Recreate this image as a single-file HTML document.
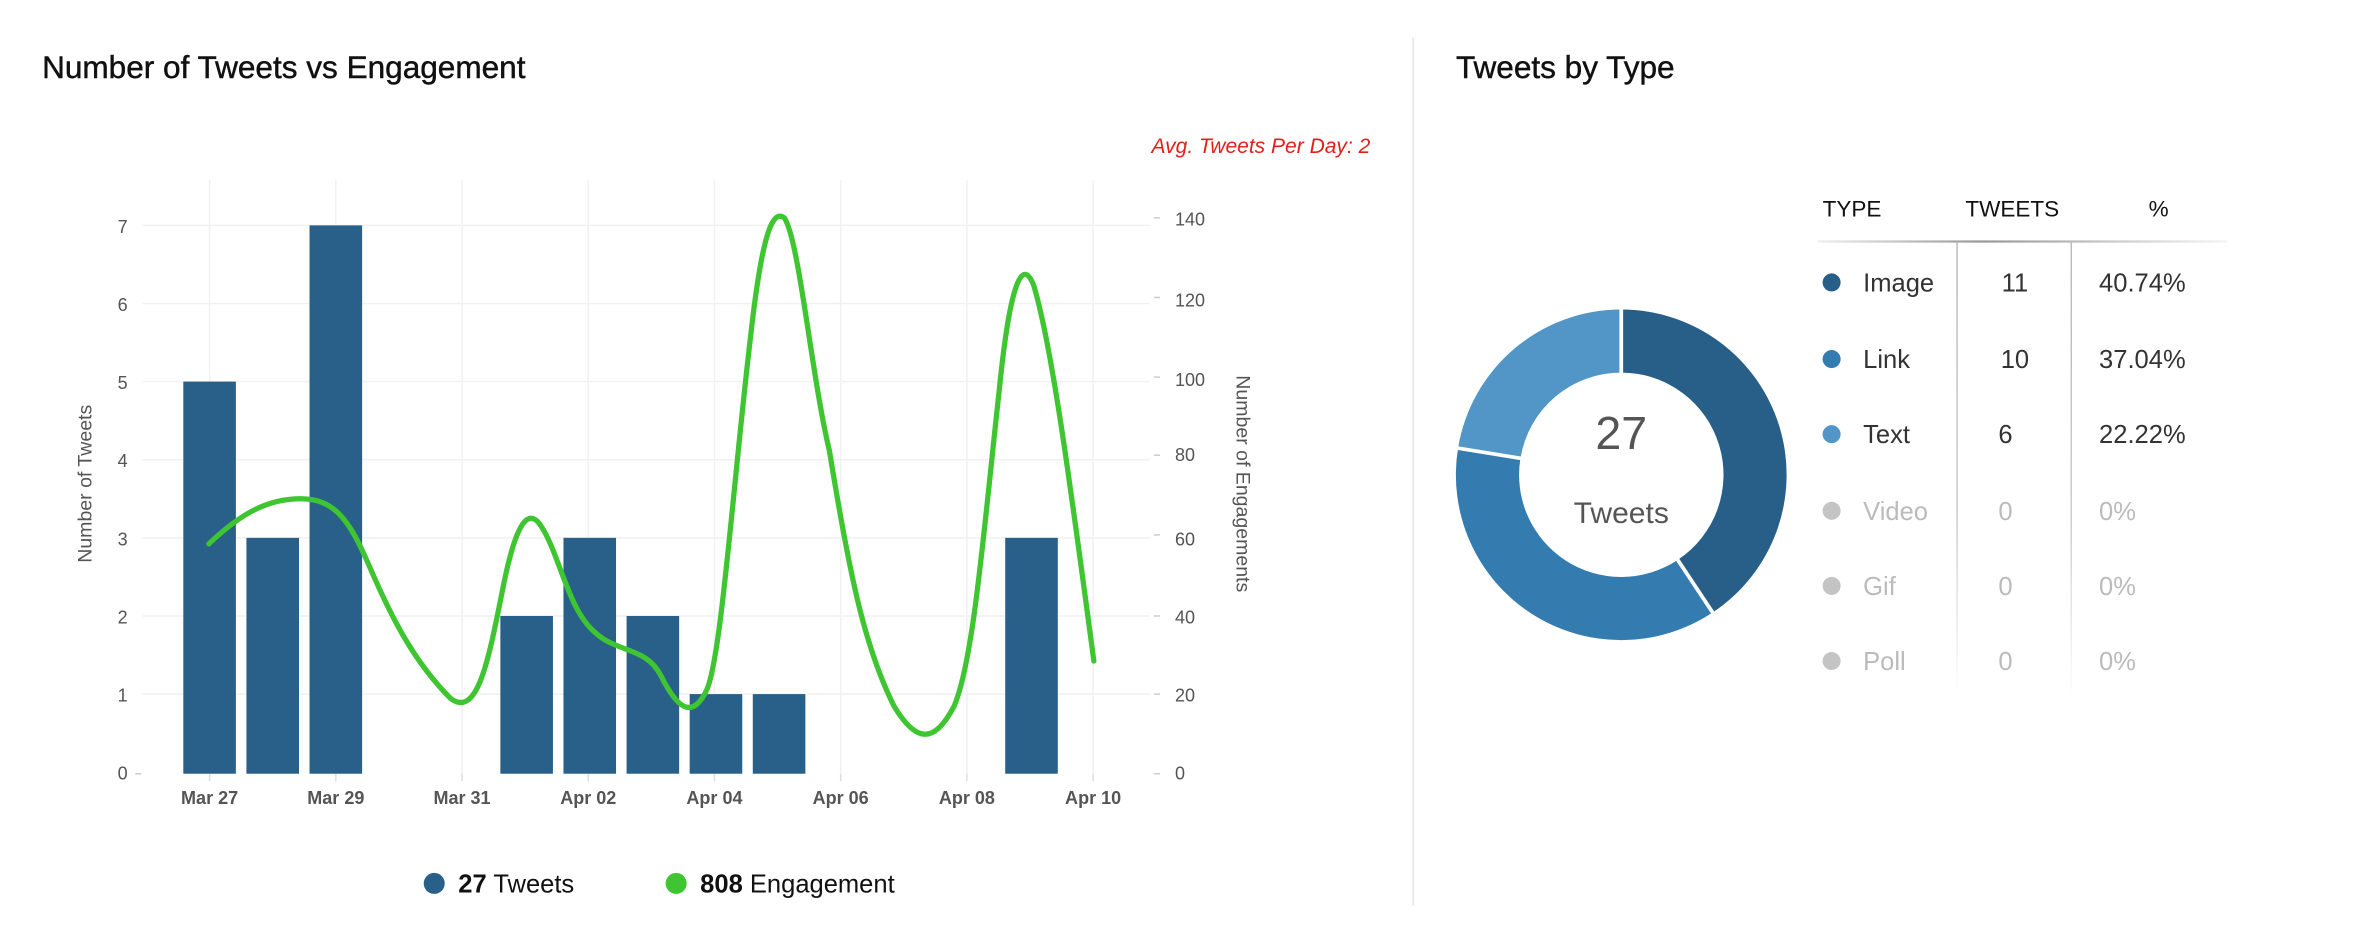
<!DOCTYPE html>
<html><head><meta charset="utf-8"><style>html,body{margin:0;padding:0;background:#fff}svg{display:block}text{font-family:"Liberation Sans",sans-serif}</style></head><body>
<svg width="2356" height="948" viewBox="0 0 1568 631" preserveAspectRatio="none" xmlns="http://www.w3.org/2000/svg">
<text x="28" y="52" font-size="21" fill="#111" stroke="#111" stroke-width="0.3">Number of Tweets vs Engagement</text>
<text x="912" y="102" font-size="14" fill="#e0201a" font-style="italic" text-anchor="end">Avg. Tweets Per Day: 2</text>
<g stroke="#f1f1f1" stroke-width="1">
<line x1="95" y1="150" x2="765" y2="150"/><line x1="95" y1="202" x2="765" y2="202"/><line x1="95" y1="254" x2="765" y2="254"/><line x1="95" y1="306" x2="765" y2="306"/><line x1="95" y1="358" x2="765" y2="358"/><line x1="95" y1="410" x2="765" y2="410"/><line x1="95" y1="462" x2="765" y2="462"/>
<line x1="139.5" y1="120" x2="139.5" y2="515"/><line x1="223.5" y1="120" x2="223.5" y2="515"/><line x1="307.5" y1="120" x2="307.5" y2="515"/><line x1="391.5" y1="120" x2="391.5" y2="515"/><line x1="475.5" y1="120" x2="475.5" y2="515"/><line x1="559.5" y1="120" x2="559.5" y2="515"/><line x1="643.5" y1="120" x2="643.5" y2="515"/><line x1="727.5" y1="120" x2="727.5" y2="515"/>
</g>
<g stroke="#ddd"><line x1="139.5" y1="515" x2="139.5" y2="520"/><line x1="223.5" y1="515" x2="223.5" y2="520"/><line x1="307.5" y1="515" x2="307.5" y2="520"/><line x1="391.5" y1="515" x2="391.5" y2="520"/><line x1="475.5" y1="515" x2="475.5" y2="520"/><line x1="559.5" y1="515" x2="559.5" y2="520"/><line x1="643.5" y1="515" x2="643.5" y2="520"/><line x1="727.5" y1="515" x2="727.5" y2="520"/></g>
<g fill="#28608a">
<rect x="122" y="254" width="35" height="261"/><rect x="164" y="358" width="35" height="157"/><rect x="206" y="150" width="35" height="365"/>
<rect x="333" y="410" width="35" height="105"/><rect x="375" y="358" width="35" height="157"/><rect x="417" y="410" width="35" height="105"/>
<rect x="459" y="462" width="35" height="53"/><rect x="501" y="462" width="35" height="53"/><rect x="669" y="358" width="35" height="157"/>
</g>
<path d="M139,362 C160,342 178,332 200,332 C222,332 232,345 245,375 C260,410 275,440 300,465 C318,478 325,440 335,390 C342,355 350,335 360,350 C372,368 378,405 395,420 C410,435 430,430 440,450 C450,470 460,480 470,460 C480,440 488,320 500,220 C508,150 515,140 522,145 C532,160 540,250 552,300 C565,380 575,430 595,470 C610,495 622,495 635,470 C648,440 655,350 665,260 C672,190 680,170 688,190 C700,230 712,320 728,440" fill="none" stroke="#3ec531" stroke-width="3.5" stroke-linecap="round"/>
<g font-size="12" fill="#555" text-anchor="end">
<text x="85" y="519">0</text><text x="85" y="467">1</text><text x="85" y="415">2</text><text x="85" y="363">3</text><text x="85" y="311">4</text><text x="85" y="259">5</text><text x="85" y="207">6</text><text x="85" y="155">7</text>
</g>
<g font-size="12" fill="#555">
<text x="782" y="519">0</text><text x="782" y="467">20</text><text x="782" y="415">40</text><text x="782" y="363">60</text><text x="782" y="307">80</text><text x="782" y="257">100</text><text x="782" y="204">120</text><text x="782" y="150">140</text>
</g>
<g stroke="#ccc"><line x1="768" y1="515" x2="772" y2="515"/><line x1="768" y1="462" x2="772" y2="462"/><line x1="768" y1="410" x2="772" y2="410"/><line x1="768" y1="356" x2="772" y2="356"/><line x1="768" y1="303" x2="772" y2="303"/><line x1="768" y1="251" x2="772" y2="251"/><line x1="768" y1="198" x2="772" y2="198"/><line x1="768" y1="145" x2="772" y2="145"/><line x1="90" y1="515" x2="94" y2="515"/></g>
<text transform="translate(61,322) rotate(-90)" font-size="13" fill="#555" text-anchor="middle">Number of Tweets</text>
<text transform="translate(823,322) rotate(90)" font-size="13" fill="#555" text-anchor="middle">Number of Engagements</text>
<g font-size="12" fill="#555" font-weight="bold" text-anchor="middle">
<text x="139.5" y="535">Mar 27</text><text x="223.5" y="535">Mar 29</text><text x="307.5" y="535">Mar 31</text><text x="391.5" y="535">Apr 02</text><text x="475.5" y="535">Apr 04</text><text x="559.5" y="535">Apr 06</text><text x="643.5" y="535">Apr 08</text><text x="727.5" y="535">Apr 10</text>
</g>
<circle cx="289" cy="588" r="7" fill="#28608a"/>
<text x="305" y="594" font-size="17" fill="#111"><tspan font-weight="bold">27</tspan> Tweets</text>
<circle cx="450" cy="588" r="7" fill="#3ec531"/>
<text x="466" y="594" font-size="17" fill="#111"><tspan font-weight="bold">808</tspan> Engagement</text>

<line x1="940.5" y1="25" x2="940.5" y2="603" stroke="#e6e6e6"/>
<text x="969" y="52" font-size="21" fill="#111" stroke="#111" stroke-width="0.3">Tweets by Type</text>

<g transform="translate(1079,316)">
<path d="M0,-110 A110,110 0 0 1 60.8,91.7 L37.6,56.7 A68,68 0 0 0 0,-68 Z" fill="#285f88"/>
<path d="M60.8,91.7 A110,110 0 0 1 -108.6,-17.8 L-67.1,-11 A68,68 0 0 0 37.6,56.7 Z" fill="#347cb0"/>
<path d="M-108.6,-17.8 A110,110 0 0 1 0,-110 L0,-68 A68,68 0 0 0 -67.1,-11 Z" fill="#5196c7"/>
<g stroke="#fff" stroke-width="2.5"><line x1="0" y1="-112" x2="0" y2="-66"/><line x1="62" y1="93.5" x2="36.5" y2="55"/><line x1="-110.5" y1="-18" x2="-65.5" y2="-10.7"/></g>
<text x="0" y="-17" font-size="31" fill="#555" text-anchor="middle">27</text>
<text x="0" y="32" font-size="20" fill="#555" text-anchor="middle">Tweets</text>
</g>

<g font-size="15" fill="#111"><text x="1213" y="144">TYPE</text><text x="1308" y="144">TWEETS</text><text x="1430" y="144">%</text></g>
<defs><linearGradient id="hl" x1="0" x2="1"><stop offset="0" stop-color="#eee"/><stop offset=".4" stop-color="#999"/><stop offset="1" stop-color="#f4f4f4"/></linearGradient>
<linearGradient id="vl" x1="0" y1="0" x2="0" y2="1"><stop offset="0" stop-color="#bbb"/><stop offset=".6" stop-color="#ccc"/><stop offset="1" stop-color="#fff"/></linearGradient></defs>
<rect x="1210" y="160" width="272" height="1.5" fill="url(#hl)"/>
<rect x="1302" y="161" width="1" height="305" fill="url(#vl)"/>
<rect x="1378" y="161" width="1" height="305" fill="url(#vl)"/>
<g font-size="17">
<circle cx="1219" cy="188" r="6" fill="#285f88"/><text x="1240" y="194" fill="#333">Image</text><text x="1341" y="194" fill="#333" text-anchor="middle">11</text><text x="1397" y="194" fill="#333">40.74%</text>
<circle cx="1219" cy="239" r="6" fill="#347cb0"/><text x="1240" y="245" fill="#333">Link</text><text x="1341" y="245" fill="#333" text-anchor="middle">10</text><text x="1397" y="245" fill="#333">37.04%</text>
<circle cx="1219" cy="289" r="6" fill="#5196c7"/><text x="1240" y="295" fill="#333">Text</text><text x="1330" y="295" fill="#333">6</text><text x="1397" y="295" fill="#333">22.22%</text>
<circle cx="1219" cy="340" r="6" fill="#c4c4c4"/><text x="1240" y="346" fill="#bbb">Video</text><text x="1330" y="346" fill="#bbb">0</text><text x="1397" y="346" fill="#bbb">0%</text>
<circle cx="1219" cy="390" r="6" fill="#c4c4c4"/><text x="1240" y="396" fill="#bbb">Gif</text><text x="1330" y="396" fill="#bbb">0</text><text x="1397" y="396" fill="#bbb">0%</text>
<circle cx="1219" cy="440" r="6" fill="#c4c4c4"/><text x="1240" y="446" fill="#bbb">Poll</text><text x="1330" y="446" fill="#bbb">0</text><text x="1397" y="446" fill="#bbb">0%</text>
</g>
</svg>
</body></html>
